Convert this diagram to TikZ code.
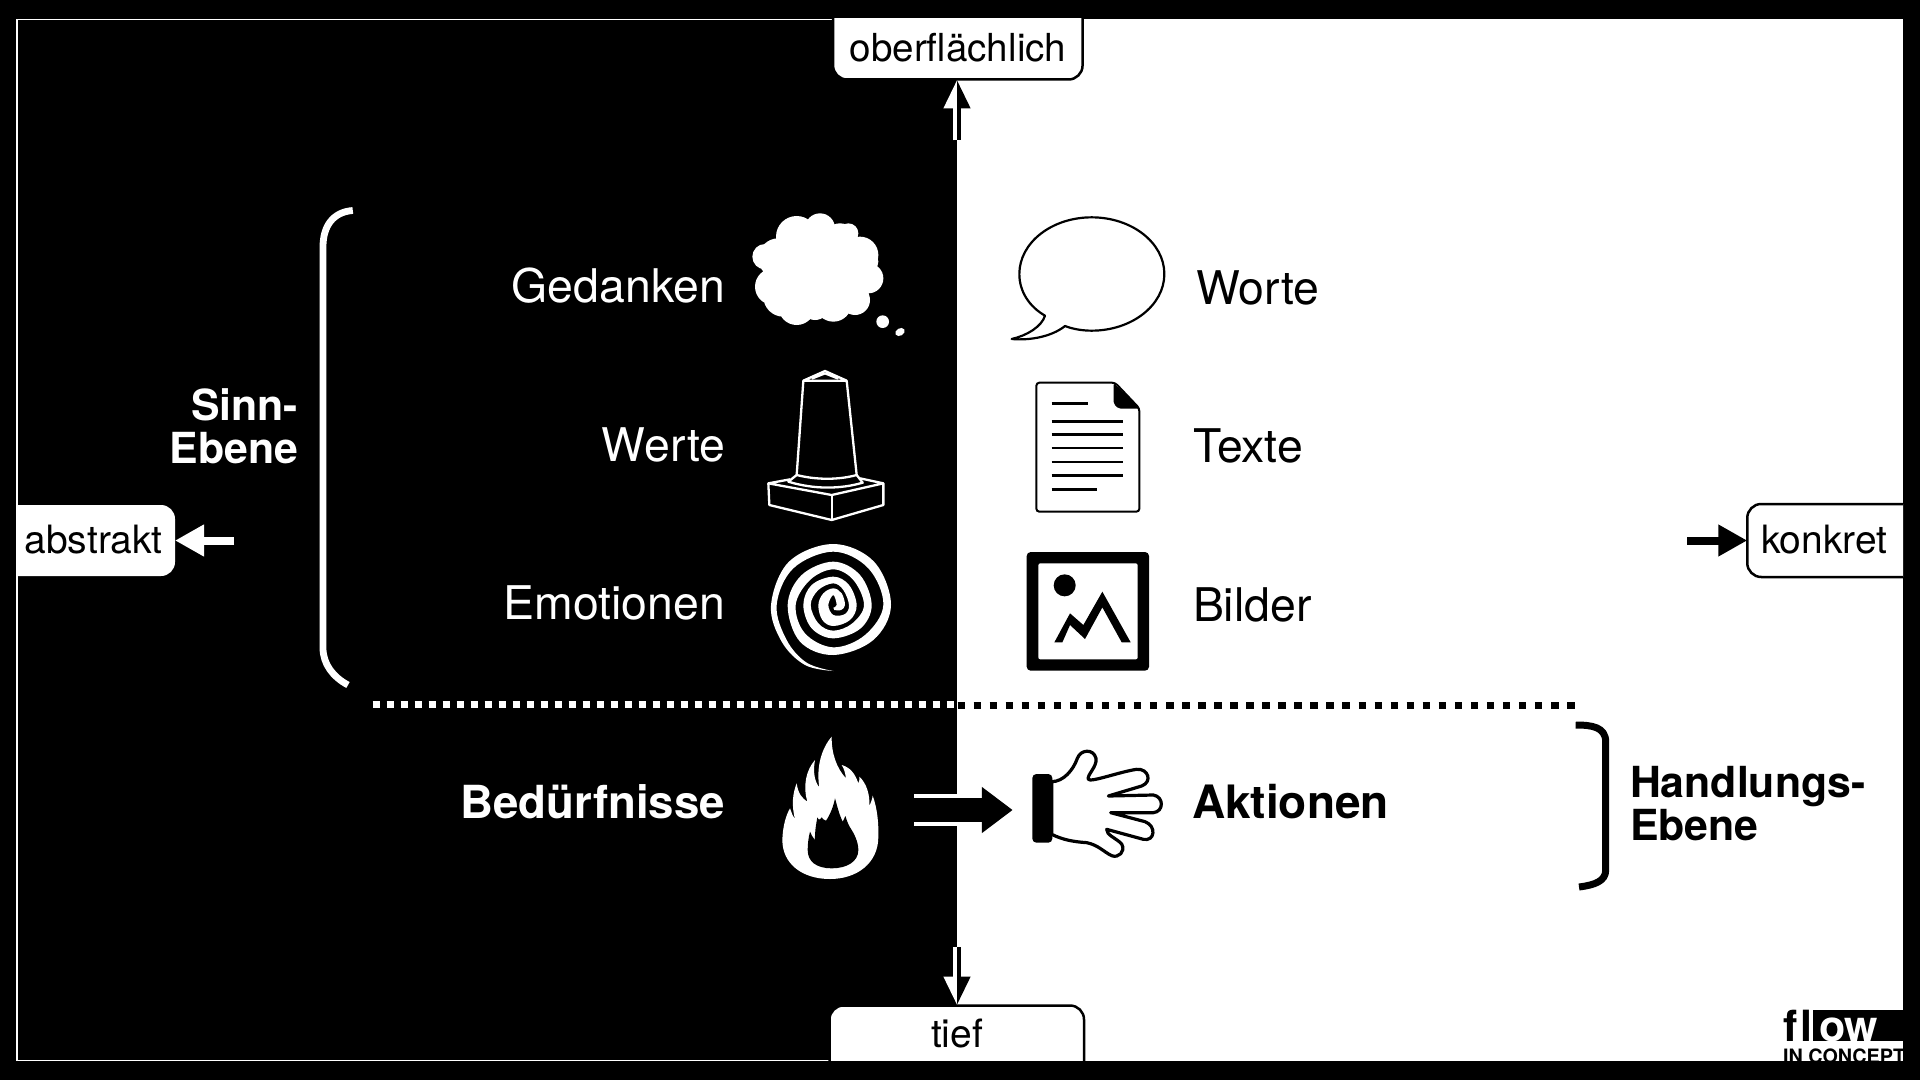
\documentclass[tikz,border=0pt]{standalone}
\usepackage{fontspec}
\setmainfont{TeX Gyre Heros}
\usetikzlibrary{arrows.meta,calc}
\newcommand{\fsz}[1]{\fontsize{#1pt}{#1pt}\selectfont}
\tikzset{
  lab/.style={inner sep=0pt,outer sep=0pt,font=\fsz{23.2}},
  blab/.style={inner sep=0pt,outer sep=0pt,font=\fsz{22.8}\bfseries},
  hlab/.style={inner sep=0pt,outer sep=0pt,font=\fsz{21.4}\bfseries},
  slab/.style={inner sep=0pt,outer sep=0pt,font=\fsz{19.5}},
  tagbox/.style={rounded corners=7pt,line width=1.25pt,inner sep=0pt,outer sep=0pt,fill=white},
  smallarrow/.style={line width=4pt,-{Triangle[length=14.5pt,width=15pt]}},
  vertarrow/.style={line width=3.8pt,-{Triangle[length=14.5pt,width=12.5pt]}},
  zoomA/.style={shift={(740,190)},x=0.166667pt,y=-0.166667pt},
  zoomB/.style={shift={(770,730)},x=0.166667pt,y=-0.166667pt},
  zoomC/.style={shift={(1020,740)},x=0.166667pt,y=-0.166667pt},
  zoomD/.style={shift={(765,540)},x=0.166667pt,y=-0.166667pt},
}
\begin{document}
\begin{tikzpicture}[x=0.5pt,y=-0.5pt]
\useasboundingbox (0,0) rectangle (1920,1080);
\fill[black] (0,0) rectangle (1920,1080);
\fill[white] (16,19) rectangle (1903,1061);
\fill[black] (17.5,20.5) rectangle (957,1059.5);
\coordinate (split) at (957,540);

% tag boxes (cut off by the frame)
\begin{scope}
\clip (17.5,19) rectangle (1903,1060);
\node[tagbox,draw=black,minimum width=124.75pt,minimum height=70pt] (oberbox) at (957.8,9.5) {};
\node[tagbox,draw=black,minimum width=127.25pt,minimum height=67.25pt] (tiefbox) at (956.75,1072.75) {};
\node[tagbox,minimum width=107.5pt,minimum height=35.5pt] (abstraktbox) at (67.5,540.5) {};
\node[tagbox,draw=black,minimum width=106.35pt,minimum height=36.5pt] (konkretbox) at (1853.6,540.5) {};
\end{scope}
\node[slab,anchor=base,font=\fsz{19.3}] (oberlab) at (958,61.5) {oberf{}lächlich};
\node[slab,anchor=base] (tieflab) at (957,1047) {tief};
\node[slab,anchor=base west] (abstraktlab) at (24.5,553.5) {abstrakt};
\node[slab,anchor=base west] (konkretlab) at (1761,553.5) {konkret};

% connectors to the tags
\coordinate (upstart) at (957,140.5);
\coordinate (downstart) at (957,947);
\coordinate (leftstart) at (234,540.5);
\coordinate (rightstart) at (1687,540.5);
\begin{scope}
\clip (0,0) rectangle (957,1080);
\draw[vertarrow,white] (upstart) -- (oberbox.south -| split);
\draw[vertarrow,white] (downstart) -- (tiefbox.north -| split);
\end{scope}
\begin{scope}
\clip (957,0) rectangle (1920,1080);
\draw[vertarrow,black] (upstart) -- (oberbox.south -| split);
\draw[vertarrow,black] (downstart) -- (tiefbox.north -| split);
\end{scope}
\draw[smallarrow,white] (leftstart) -- (abstraktbox.east |- leftstart);
\draw[smallarrow,black] (rightstart) -- (konkretbox.west |- rightstart);

% dotted separator
\coordinate (dotA) at (372.5,704.7);
\coordinate (dotB) at (955,704.7);
\coordinate (dotC) at (957.5,705.5);
\coordinate (dotD) at (1575,705.5);
\draw[white,line width=3.3pt,dash pattern=on 3.5pt off 3.5pt] (dotA) -- (dotB);
\draw[black,line width=3.4pt,dash pattern=on 3.75pt off 4.27pt] (dotC) -- (dotD);

% brackets
\draw[white,line width=3.4pt] (352.8,210.5) .. controls (333,212) and (323,226) .. (323,247) -- (323,648) .. controls (323,664) and (333,677) .. (348,685);
\draw[black,line width=3.5pt] (1575.7,725) .. controls (1592,725) and (1605.7,727) .. (1605.7,742) -- (1605.7,870) .. controls (1605.7,881) and (1595,885) .. (1579,887);

% texts left
\node[lab,white,anchor=base east] (gedanken) at (725,302.7) {Gedanken};
\node[lab,white,anchor=base east] (werte) at (725,461) {Werte};
\node[lab,white,anchor=base east] (emotionen) at (725,619.5) {Emotionen};
\node[blab,white,anchor=base east] (beduerf) at (725,818.5) {Bedürfnisse};
\node[hlab,white,anchor=base east] (sinn) at (298,420.5) {Sinn-};
\node[hlab,white,anchor=base east] (ebeneA) at (298,463.5) {Ebene};
% texts right
\node[lab,anchor=base west] (worte) at (1196,304.5) {Worte};
\node[lab,anchor=base west] (texte) at (1193,462.2) {Texte};
\node[lab,anchor=base west] (bilder) at (1193,621.2) {Bilder};
\node[blab,anchor=base west,font=\fsz{23}\bfseries] (aktionen) at (1192,818.5) {Aktionen};
\node[hlab,anchor=base west] (handlung) at (1630,797.2) {Handlungs-};
\node[hlab,anchor=base west] (ebeneB) at (1630,840.5) {Ebene};

% icons from first zoom
\begin{scope}[zoomA]
% cloud
\fill[white] (170,140) circle (62) (240,115) circle (45) (300,150) circle (50) (360,195) circle (55)
 (385,265) circle (45) (345,330) circle (45) (280,340) circle (55) (170,350) circle (55)
 (100,290) circle (55) (75,200) circle (38) (230,240) circle (130) (115,205) circle (60) (130,320) circle (60) (225,345) circle (45) (325,130) circle (30) (385,215) circle (30);
\fill[white] (428,395) circle (19);
\fill[white,rotate around={30:(480,426)}] (480,426) ellipse (15 and 11);
% obelisk
\begin{scope}[white,line width=1.15pt,line join=round]
\draw (190,572) -- (255,543) -- (320,572) -- cycle;
\draw (215,566) -- (255,550) -- (295,566);
\draw (190,572) -- (170,855) .. controls (230,870) and (295,870) .. (350,855) -- (320,572);
\draw (170,855) -- (145,875) .. controls (220,898) and (300,898) .. (368,878) -- (350,855);
\draw (150,868) -- (85,880) -- (275,915) -- (430,880) -- (360,865);
\draw (85,880) -- (88,945) -- (275,990) -- (430,945) -- (430,880);
\draw (275,915) -- (275,990);
\end{scope}
% speech bubble
\draw[black,fill=white,line width=1.1pt,line join=round] (975,408) .. controls (1000,418) and (1030,422) .. (1055,422) .. controls (1175,422) and (1273,346) .. (1273,252) .. controls (1273,158) and (1175,82) .. (1055,82) .. controls (935,82) and (838,158) .. (838,252) .. controls (838,305) and (868,350) .. (915,377) .. controls (905,410) and (860,437) .. (815,447) .. controls (870,452) and (935,440) .. (975,408) -- cycle;
% document
\draw[black,fill=white,line width=1pt,rounded corners=1.5pt] (889,578) -- (1125,578) -- (1198,655) -- (1198,965) -- (889,965) -- cycle;
\fill[black,rounded corners=1pt] (1121,579) -- (1199,656) -- (1136,656) -- (1121,642) -- cycle;
\begin{scope}[black,line width=1.2pt]
\draw (935,641) -- (1043,641);
\foreach \yy in {695,733,774,816,857} {\draw (935,\yy) -- (1148,\yy);}
\draw (935,899) -- (1070,899);
\end{scope}
% picture
\fill[black,rounded corners=2pt] (860,1086) rectangle (1227,1442);
\fill[white,rounded corners=1pt] (895,1120) rectangle (1193,1408);
\fill[black] (974,1186) circle (33);
\fill[black] (943,1357) -- (990,1270) -- (1030,1305) -- (1087,1205) -- (1172,1357) -- (1145,1357) -- (1087,1252) -- (1035,1347) -- (990,1305) -- (967,1357) -- cycle;
\end{scope}

% spiral
\begin{scope}[zoomD]
\fill[white] plot[smooth,tension=0.6] coordinates {(205,393) (120,375) (50,305) (18,195) (72,65) (205,12) (327,65) (378,195) (325,300) (205,345) (105,305) (68,195) (110,105) (205,65) (285,105) (320,195) (287,265) (205,295) (140,265) (115,195) (140,135) (205,110) (252,135) (275,195) (255,240) (205,258) (172,240) (160,195) (175,160) (205,145) (230,160) (240,195) (228,210) (208,210)}
 -- plot[smooth,tension=0.6] coordinates {(205,203) (215,195) (205,165) (190,195) (205,225) (240,222) (252,195) (235,150) (205,130)  (160,150) (137,195) (160,250) (205,272) (262,250) (297,195) (265,120) (205,88) (135,120) (92,195) (120,280) (205,322) (300,285) (355,195) (310,85) (205,35) (85,85) (35,195) (65,300) (125,368) (205,393)} -- cycle;
\end{scope}

% flame
\begin{scope}[zoomB]
\fill[white] (37,330) .. controls (38,290) and (48,255) .. (60,235) .. controls (66,250) and (68,260) .. (75,268) .. controls (64,225) and (68,190) .. (80,160) .. controls (84,190) and (96,205) .. (112,215) .. controls (98,170) and (108,120) .. (135,90) .. controls (128,125) and (134,155) .. (148,172) .. controls (138,110) and (155,55) .. (185,20) .. controls (184,70) and (200,115) .. (228,145) .. controls (226,130) and (222,115) .. (215,105) .. controls (240,112) and (255,130) .. (265,160) .. controls (268,150) and (270,145) .. (268,140) .. controls (290,160) and (300,195) .. (298,228) .. controls (304,215) and (307,205) .. (308,197) .. controls (322,235) and (326,280) .. (325,320) .. controls (325,400) and (260,447) .. (180,447) .. controls (95,447) and (37,400) .. (37,330) -- cycle;
\fill[black] (185,415) .. controls (140,415) and (113,395) .. (113,360) .. controls (113,340) and (116,320) .. (120,305) .. controls (124,315) and (128,322) .. (135,330) .. controls (134,305) and (138,285) .. (142,262) .. controls (146,270) and (148,272) .. (155,262) .. controls (158,268) and (163,270) .. (168,272) .. controls (180,255) and (190,230) .. (195,205) .. controls (202,230) and (208,255) .. (218,275) .. controls (222,268) and (224,262) .. (226,258) .. controls (230,270) and (234,282) .. (240,292) .. controls (252,310) and (265,335) .. (265,360) .. controls (265,395) and (230,415) .. (185,415) -- cycle;
\end{scope}

% big arrow
\coordinate (bigstart) at (914,810);
\coordinate (bigbase) at (982,810);
\coordinate (bigtip) at (1012.7,810);
\draw[white,line width=16.4pt] (bigstart) -- (bigbase);
\draw[black,line width=12pt,-{Triangle[length=15.4pt,width=22pt]}] (bigstart) -- (bigtip);

% hand
\begin{scope}[zoomC]
\draw[black,fill=white,line width=1.6pt,line join=round] (95,125) .. controls (130,125) and (160,90) .. (172,55) .. controls (182,28) and (220,25) .. (228,55) .. controls (232,80) and (200,105) .. (205,118) .. controls (212,128) and (300,95) .. (350,88) .. controls (385,85) and (398,125) .. (365,138) -- (265,168) -- (400,165) .. controls (432,170) and (432,215) .. (400,218) -- (272,218) -- (375,245) .. controls (410,258) and (405,305) .. (370,298) -- (260,268) .. controls (258,285) and (290,295) .. (305,312) .. controls (318,335) and (295,355) .. (275,347) .. controls (250,335) and (235,315) .. (200,308) .. controls (160,305) and (130,300) .. (95,283) -- cycle;
\fill[black,rounded corners=2pt] (37,102) rectangle (97,308);
\end{scope}

% logo
\begin{scope}
\clip (16,19) rectangle (1903,1061);
\fill[black] (1812.7,1010) rectangle (1903,1041);
\node[inner sep=0pt,outer sep=0pt,font=\fsz{21.5}\bfseries,anchor=base west] (logoA) at (1783,1041) {f\kern1.5pt{}l};
\node[inner sep=0pt,outer sep=0pt,font=\fsz{21.5}\bfseries,white,anchor=base west] (logoB) at (1819,1041) {ow};
\node[inner sep=0pt,outer sep=0pt,font=\fsz{9.9}\bfseries,anchor=base west] (logoC) at (1783,1063) {IN CONCEPT};
\end{scope}
\end{tikzpicture}
\end{document}
